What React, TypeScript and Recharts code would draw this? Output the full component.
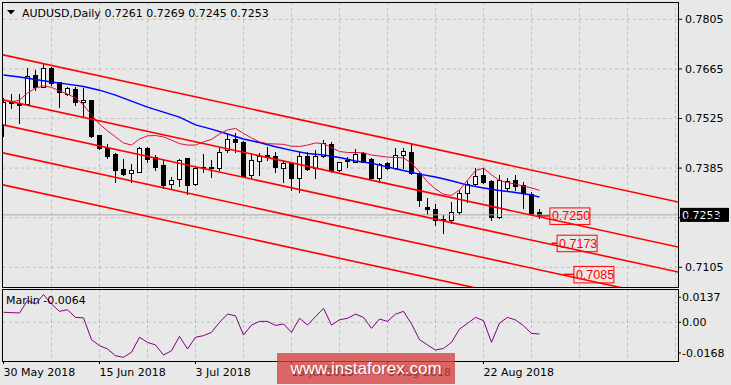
import {
  Bar,
  CartesianGrid,
  ComposedChart,
  Line,
  ReferenceDot,
  ReferenceLine,
  XAxis,
  YAxis,
} from 'recharts';

const FONT = '"DejaVu Sans", Verdana, sans-serif';
const BG = '#e8e8e8';
const GRID = '#c0c0c0';

// daily candles, 30 May .. end of Aug 2018
const opens = [
  0.7507, 0.7572, 0.7567, 0.7565, 0.7648, 0.7615, 0.7667, 0.7627, 0.7593, 0.7608,
  0.7571, 0.7577, 0.7478, 0.7443, 0.7424, 0.7382, 0.737, 0.7375, 0.7441, 0.7417,
  0.7394, 0.7339, 0.7354, 0.7413, 0.7339, 0.7387, 0.7388, 0.7386, 0.7436, 0.7467,
  0.746, 0.7366, 0.7406, 0.7422, 0.7419, 0.7386, 0.7399, 0.7356, 0.7419, 0.7384,
  0.742, 0.7452, 0.7379, 0.7407, 0.7403, 0.7427, 0.7411, 0.7358, 0.7399, 0.7384,
  0.7422, 0.743, 0.737, 0.7276, 0.727, 0.7241, 0.7239, 0.726, 0.7314, 0.7339,
  0.7366, 0.7349, 0.7248, 0.7328, 0.7351, 0.7337, 0.7311, 0.7261,
];
const highs = [
  0.7584, 0.7593, 0.7593, 0.7667, 0.7662, 0.7678, 0.7671, 0.7628, 0.7615, 0.7615,
  0.761, 0.7578, 0.7479, 0.7452, 0.7427, 0.7411, 0.7396, 0.7445, 0.7445, 0.7422,
  0.7408, 0.7361, 0.7411, 0.7414, 0.7389, 0.7424, 0.7408, 0.7441, 0.748, 0.7483,
  0.7461, 0.7428, 0.7428, 0.7445, 0.7431, 0.7408, 0.7403, 0.7431, 0.7431, 0.7436,
  0.7464, 0.746, 0.7403, 0.7417, 0.7439, 0.7431, 0.7413, 0.7399, 0.7401, 0.7441,
  0.7441, 0.7452, 0.7375, 0.7301, 0.7283, 0.7253, 0.729, 0.7323, 0.7349, 0.7384,
  0.7384, 0.735, 0.7366, 0.7358, 0.7366, 0.7347, 0.7318, 0.7269,
];
const lows = [
  0.7476, 0.7554, 0.7513, 0.7563, 0.7605, 0.7613, 0.762, 0.7558, 0.7591, 0.7563,
  0.753, 0.7474, 0.744, 0.7413, 0.7347, 0.7366, 0.7347, 0.7373, 0.7401, 0.738,
  0.7328, 0.7328, 0.7335, 0.7312, 0.7337, 0.7375, 0.7361, 0.738, 0.743, 0.7431,
  0.7361, 0.7358, 0.7366, 0.7408, 0.7375, 0.7347, 0.7323, 0.7318, 0.738, 0.7358,
  0.7417, 0.7373, 0.7377, 0.7389, 0.7401, 0.7401, 0.7351, 0.7347, 0.7382, 0.7382,
  0.7384, 0.7368, 0.7279, 0.7255, 0.7224, 0.7201, 0.7229, 0.7256, 0.729, 0.7335,
  0.7342, 0.7239, 0.7243, 0.7323, 0.7323, 0.7273, 0.7253, 0.7245,
];
const closes = [
  0.7572, 0.7568, 0.7566, 0.7646, 0.7615, 0.7667, 0.7624, 0.7599, 0.761, 0.7572,
  0.7577, 0.7476, 0.7441, 0.742, 0.738, 0.7368, 0.7379, 0.7441, 0.7411, 0.7389,
  0.7337, 0.7351, 0.7407, 0.7337, 0.7384, 0.7386, 0.7384, 0.743, 0.7467, 0.7458,
  0.7364, 0.7408, 0.742, 0.7416, 0.7389, 0.7399, 0.7356, 0.7419, 0.7382, 0.7419,
  0.7455, 0.7377, 0.7401, 0.7408, 0.7424, 0.7403, 0.7356, 0.7396, 0.7384, 0.7422,
  0.7433, 0.737, 0.7295, 0.727, 0.7239, 0.7239, 0.726, 0.7314, 0.7339, 0.7364,
  0.7347, 0.7248, 0.7351, 0.7349, 0.7335, 0.7314, 0.7255, 0.7253,
];

// blue moving average, read every second bar
const slowMa = [
  0.7648, null, 0.7642, null, 0.7635, null, 0.7628, null, 0.7622, null,
  0.7615, null, 0.7605, null, 0.7591, null, 0.7574, null, 0.7557, null,
  0.7543, null, 0.7529, null, 0.7507, null, 0.7495, null, 0.7481, null,
  0.7467, null, 0.7457, null, 0.7445, null, 0.7435, null, 0.7426, null,
  0.7422, null, 0.7415, null, 0.7405, null, 0.7399, null, 0.7388, null,
  0.7378, null, 0.7368, null, 0.736, null, 0.7349, null, 0.7337, null,
  0.7329, null, 0.7322, null, 0.7316, null, 0.7309, 0.7303,
];

// crimson moving average
const fastMa = [
  null, 0.7572, 0.7577, 0.7597, 0.7611, 0.7617, 0.7613, 0.7603, 0.7594, 0.7583,
  0.7563, 0.7535, 0.7509, 0.749, 0.7473, 0.7456, 0.745, 0.7467, 0.7476, 0.7477,
  0.7473, 0.7464, 0.7454, 0.745, 0.745, 0.7459, 0.7466, 0.7481, 0.7493, 0.7497,
  0.7483, 0.747, 0.7459, 0.7454, 0.7453, 0.7452, 0.7447, 0.7446, 0.745, 0.7456,
  0.7454, 0.7443, 0.7432, 0.7429, 0.7429, 0.7428, 0.7422, 0.7419, 0.7416, 0.7415,
  0.7414, 0.7399, 0.7374, 0.7346, 0.7326, 0.7311, 0.7308, 0.7323, 0.7351, 0.7378,
  0.7385, 0.7366, 0.735, 0.7344, 0.734, 0.7334, 0.7329, 0.7322,
];

const marlin = [
  0.0055, 0.0053, 0.0051, 0.012, 0.01, 0.0152, 0.01, 0.006, 0.0069, 0.0027,
  0.0024, -0.0095, -0.0128, -0.0146, -0.0183, -0.0192, -0.0164, -0.0082, -0.011, -0.0124,
  -0.0179, -0.0156, -0.0077, -0.0146, -0.0082, -0.0073, -0.0055, 0.0, 0.0045, 0.0036,
  -0.007, -0.0015, 0.0005, 0.0005, -0.0017, -0.0009, -0.0055, 0.0022, -0.0015, 0.0031,
  0.0077, -0.0015, 0.0014, 0.0022, 0.0045, 0.0027, -0.0033, 0.0018, 0.0005, 0.0045,
  0.006, -0.0009, -0.0095, -0.0124, -0.0152, -0.0143, -0.011, -0.0037, -0.0006, 0.0027,
  0.0009, -0.011, -0.0004, 0.0027, 0.0013, -0.0019, -0.0061, -0.0064,
];

const dateTickBars = [0, 12, 24, 36, 48, 60];
const dateTickLabels = ['30 May 2018', '15 Jun 2018', '3 Jul 2018', '19 Jul 2018', '6 Aug 2018', '22 Aug 2018'];
const gridBars = [6, 12, 18, 24, 30, 36, 42, 48, 54, 60, 66, 72, 78, 84];
const priceTicks = [0.7105, 0.7245, 0.7385, 0.7525, 0.7665, 0.7805];
const marlinTicks = [-0.0168, 0, 0.0137];

// channel lines: price at bar -1 and at bar 86
const channelFrom = [0.77091, 0.75821, 0.75116, 0.74325, 0.73422];
const channelTo = [0.72809, 0.71539, 0.70834, 0.70043, 0.6914];

const tagPrices = [0.725, 0.7173, 0.7085];
const tagAnchorBars = [67, 68.5, 70];
const tagBoxBars = [68.3, 69.2, 71.3];

const lastPrice = 0.7253;
const last = opens.length - 1;

const X_MIN = -0.0625;
const X_MAX = 84.3125;

const rows = opens.map((open, i) => ({
  bar: i,
  open,
  high: highs[i],
  low: lows[i],
  close: closes[i],
  range: [lows[i], highs[i]],
  slow: slowMa[i],
  fast: fastMa[i],
  marlin: marlin[i],
}));

function Candle(props: any) {
  const { x, y, width, height, payload } = props;
  if (payload == null || !Number.isFinite(y)) return null;
  const top = Math.min(y, y + height);
  const span = Math.abs(height);
  const perUnit = span / (payload.high - payload.low);
  const toY = (v: number) => top + (payload.high - v) * perUnit;
  const cx = Math.floor(x + width / 2) + 0.5;
  const bodyTop = Math.round(toY(Math.max(payload.open, payload.close))) + 0.5;
  const bodyBottom = Math.round(toY(Math.min(payload.open, payload.close))) + 0.5;
  const rising = payload.close > payload.open;
  return (
    <g>
      <line x1={cx} x2={cx} y1={Math.round(top)} y2={Math.round(top + span) + 1} stroke="#000" />
      <rect
        x={cx - 2}
        y={bodyTop}
        width={4}
        height={Math.max(bodyBottom - bodyTop, 1)}
        fill={rising ? '#fff' : '#000'}
        stroke="#000"
      />
    </g>
  );
}

function PriceTag(props: any) {
  const { cx, cy, y } = props;
  return (
    <g>
      <rect x={cx} y={cy - 8} width={40} height={16.5} fill="none" stroke="#ff0000" />
      <text x={cx + 2} y={cy + 4.5} fill="#ff0000" fontSize={12.5} fontFamily='"Liberation Sans", Arial, sans-serif'>
        {Number(y).toFixed(4)}
      </text>
    </g>
  );
}

function LastPriceTag(props: any) {
  const { cx, cy } = props;
  return (
    <g>
      <rect x={cx + 2} y={cy - 7} width={49} height={14} fill="#000" />
      <text x={cx + 4} y={cy + 4} fill="#fff" fontSize={11} fontFamily={FONT}>
        {lastPrice.toFixed(4)}
      </text>
    </g>
  );
}

function DateTick(props: any) {
  const { x, y, payload } = props;
  const idx = dateTickBars.indexOf(payload.value);
  return (
    <text x={x} y={y + 10} textAnchor="start" fill="#000" fontSize={11} fontFamily={FONT}>
      {idx >= 0 ? dateTickLabels[idx] : ''}
    </text>
  );
}

const tickStyle = { fill: '#000', fontSize: 11, fontFamily: FONT };

export default function App() {
  const header = `AUDUSD,Daily ${opens[last].toFixed(4)} ${highs[last].toFixed(4)} ${lows[last].toFixed(4)} ${closes[last].toFixed(4)}`;
  return (
    <div style={{ position: 'absolute', left: 0, top: 0, width: 731, height: 385, background: BG, overflow: 'hidden' }}>
      <div style={{ position: 'absolute', left: 0, top: 0 }}>
        <ComposedChart width={731} height={287} data={rows} margin={{ top: 2, right: 0, bottom: 0, left: 3 }}>
          <CartesianGrid stroke={GRID} strokeDasharray="3 3" horizontalValues={priceTicks} verticalValues={gridBars} />
          <XAxis type="number" dataKey="bar" domain={[X_MIN, X_MAX]} allowDataOverflow hide />
          <YAxis
            orientation="right"
            width={53}
            domain={[0.70494, 0.78538]}
            allowDataOverflow
            ticks={priceTicks}
            interval={0}
            tickFormatter={(v: number) => v.toFixed(4)}
            tick={tickStyle}
            tickSize={4}
            tickMargin={3}
            axisLine={false}
            tickLine={{ stroke: '#000' }}
          />
          <ReferenceLine y={lastPrice} stroke="#a8a8a8" ifOverflow="hidden" />
          <Bar dataKey="range" shape={Candle} barSize={6} isAnimationActive={false} />
          <Line type="linear" dataKey="slow" stroke="#0000ff" strokeWidth={1.5} dot={false} activeDot={false} connectNulls isAnimationActive={false} />
          <Line type="linear" dataKey="fast" stroke="#dc143c" strokeWidth={1} dot={false} activeDot={false} connectNulls isAnimationActive={false} />
          {channelFrom.map((from, k) => (
            <ReferenceLine
              key={`ch${k}`}
              segment={[{ x: -1, y: from }, { x: 86, y: channelTo[k] }]}
              stroke="#ff0000"
              strokeWidth={1.6}
              ifOverflow="hidden"
            />
          ))}
          {tagPrices.map((p, k) => (
            <ReferenceLine
              key={`tp${k}`}
              segment={[{ x: tagAnchorBars[k], y: p }, { x: tagBoxBars[k], y: p }]}
              stroke="#ff0000"
              strokeWidth={1.5}
            />
          ))}
          {tagPrices.map((p, k) => (
            <ReferenceDot key={`tb${k}`} x={tagBoxBars[k]} y={p} shape={PriceTag} />
          ))}
          <ReferenceDot x={X_MAX} y={lastPrice} shape={LastPriceTag} ifOverflow="visible" />
        </ComposedChart>
      </div>
      <div style={{ position: 'absolute', left: 0, top: 289 }}>
        <ComposedChart width={731} height={96} data={rows} margin={{ top: 0, right: 0, bottom: 0, left: 3 }}>
          <CartesianGrid stroke={GRID} strokeDasharray="3 3" horizontalValues={[0]} verticalValues={gridBars} />
          <XAxis
            type="number"
            dataKey="bar"
            domain={[X_MIN, X_MAX]}
            allowDataOverflow
            ticks={dateTickBars}
            interval={0}
            height={24}
            tickSize={3}
            tickMargin={2}
            tick={DateTick}
            axisLine={false}
            tickLine={{ stroke: '#000' }}
          />
          <YAxis
            orientation="right"
            width={53}
            domain={[-0.0212, 0.01825]}
            allowDataOverflow
            ticks={marlinTicks}
            interval={0}
            tickFormatter={(v: number) => (v === 0 ? '0.00' : v.toFixed(4))}
            tick={tickStyle}
            tickSize={3}
            tickMargin={1}
            axisLine={false}
            tickLine={{ stroke: '#000' }}
          />
          <Line type="linear" dataKey="marlin" stroke="#800080" strokeWidth={1} dot={false} activeDot={false} isAnimationActive={false} />
        </ComposedChart>
      </div>
      <div style={{ position: 'absolute', left: 2, top: 2, width: 677, height: 286, border: '1px solid #000', boxSizing: 'border-box', pointerEvents: 'none' }} />
      <div style={{ position: 'absolute', left: 2, top: 289, width: 677, height: 73, border: '1px solid #000', boxSizing: 'border-box', pointerEvents: 'none' }} />
      <svg width={731} height={385} style={{ position: 'absolute', left: 0, top: 0, pointerEvents: 'none' }}>
        <polygon points="7,10 15,10 11,14.5" fill="#000" />
        <text x={22} y={16.5} fontSize={11} fontFamily={FONT} fill="#000" style={{ whiteSpace: 'pre' }}>
          {header}
        </text>
        <text x={6} y={304} fontSize={11} fontFamily={FONT} fill="#000">
          {`Marlin ${marlin[last].toFixed(4)}`}
        </text>
      </svg>
      <div
        style={{
          position: 'absolute',
          left: 277,
          top: 353,
          width: 178,
          height: 31,
          background: 'rgba(214, 64, 64, 0.78)',
          color: '#fff',
          fontFamily: '"Liberation Sans", Arial, sans-serif',
          fontSize: 17,
          lineHeight: '31px',
          textAlign: 'center',
          textShadow: '1px 1px 1px rgba(0,0,0,0.25)',
        }}
      >
        www.instaforex.com
      </div>
    </div>
  );
}
